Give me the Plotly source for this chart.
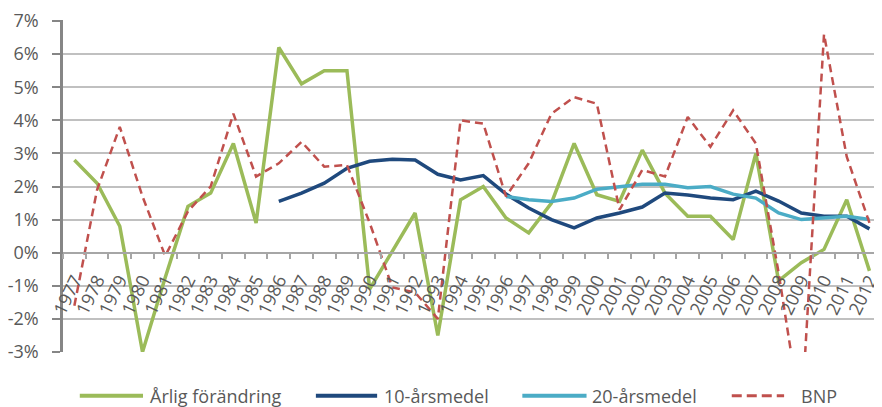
import plotly.graph_objects as go

years = ["1977", "1978", "1979", "1980", "1981", "1982", "1983", "1984", "1985",
         "1986", "1987", "1988", "1989", "1990", "1991", "1992", "1993", "1994",
         "1995", "1996", "1997", "1998", "1999", "2000", "2001", "2002", "2003",
         "2004", "2005", "2006", "2007", "2008", "2009", "2010", "2011", "2012"]

arlig = [2.8, 2.1, 0.8, -3.0, -0.75, 1.4, 1.8, 3.3, 0.9, 6.2, 5.1, 5.5, 5.5,
         -1.1, 0.05, 1.2, -2.5, 1.6, 2.0, 1.05, 0.6, 1.5, 3.3, 1.75, 1.55, 3.1,
         1.8, 1.1, 1.1, 0.4, 3.0, -0.85, -0.3, 0.1, 1.6, -0.55]

medel10 = [None] * 9 + [1.55, 1.8, 2.1, 2.55, 2.76, 2.82, 2.8, 2.37, 2.2, 2.33,
                        1.77, 1.35, 1.0, 0.75, 1.05, 1.2, 1.38, 1.8, 1.74, 1.65,
                        1.6, 1.86, 1.56, 1.2, 1.1, 1.1, 0.72]

medel20 = [None] * 19 + [1.7, 1.6, 1.55, 1.65, 1.92, 2.0, 2.07, 2.07, 1.96, 2.0,
                         1.77, 1.65, 1.2, 1.0, 1.05, 1.1, 1.0]

bnp = [-1.6, 1.9, 3.8, 1.7, -0.1, 1.25, 2.0, 4.2, 2.3, 2.7, 3.35, 2.6, 2.65,
       0.9, -1.05, -1.2, -2.0, 4.0, 3.9, 1.7, 2.7, 4.2, 4.7, 4.5, 1.3, 2.5,
       2.3, 4.1, 3.2, 4.3, 3.3, -0.6, -5.0, 6.6, 2.9, 0.9]

series_names = ["Årlig förändring", "10-årsmedel", "20-årsmedel", "BNP"]

y_tickvals = [-3, -2, -1, 0, 1, 2, 3, 4, 5, 6, 7]
y_ticktext = ["-3%", "-2%", "-1%", "0%", "1%", "2%", "3%", "4%", "5%", "6%", "7%"]

colors = ["#9BBB59", "#1F497D", "#4BACC6", "#C0504D"]
FONT = "Open Sans"
TXT = "#595959"

Y_MIN, Y_MAX = -3, 7.03

# page has an 8px body margin; figure coordinates are page coords minus OFF
OFF = 8
PAGE_W, PAGE_H = 882, 407
W, H = PAGE_W - OFF, PAGE_H - OFF
PX_PER_UNIT = 33.3
ML = 61 - OFF
MT = round(19 - (Y_MAX - 7) * PX_PER_UNIT) - OFF
MR = 0
MB = PAGE_H - 352

fig = go.Figure()
all_series = [arlig, medel10, medel20, bnp]
widths = [3.5, 3.5, 3.5, 2.5]
dashes = ["solid", "solid", "solid", "8px,5px"]
for name, vals, c, w, d in zip(series_names, all_series, colors, widths, dashes):
    fig.add_trace(go.Scatter(x=years, y=vals, mode="lines", name=name,
                             line=dict(color=c, width=w, dash=d),
                             connectgaps=False, showlegend=False))


def px_x(p):
    return (p - OFF - ML) / (W - ML - MR)


def px_y(p):
    return (H - MB - (p - OFF)) / (H - MT - MB)


# manual legend (page pixel positions)
leg_lines = [(78, 142), (317, 379), (526, 591), (738, 791)]
leg_text_x = [147, 384, 594, 806]
leg_y = 396
shapes = []
annotations = []
for (x0, x1), tx, c, d, name in zip(leg_lines, leg_text_x, colors, dashes, series_names):
    shapes.append(dict(type="line", xref="paper", yref="paper",
                       x0=px_x(x0), x1=px_x(x1), y0=px_y(leg_y), y1=px_y(leg_y),
                       line=dict(color=c, width=4 if d == "solid" else 3,
                                 dash="solid" if d == "solid" else "10px,5px")))
    annotations.append(dict(xref="paper", yref="paper", x=px_x(tx), y=px_y(leg_y),
                            text=name, showarrow=False, xanchor="left", yanchor="middle",
                            font=dict(family=FONT, size=18, color=TXT)))

zero_pos = (0 - Y_MIN) / (Y_MAX - Y_MIN)

fig.update_layout(
    width=W, height=H,
    margin=dict(l=ML, r=MR, t=MT, b=MB, pad=0),
    paper_bgcolor="white", plot_bgcolor="white",
    showlegend=False,
    shapes=shapes, annotations=annotations,
    xaxis=dict(type="category", range=[-0.5, 35.2], anchor="free", position=zero_pos,
               showline=True, linecolor="#A6A6A6", linewidth=2,
               ticks="outside", tickson="boundaries", ticklen=5, tickwidth=2,
               tickcolor="#A6A6A6", tickangle=-64, showgrid=False, zeroline=False,
               ticklabeloverflow="allow", ticklabelstandoff=9,
               tickfont=dict(family=FONT, size=18, color=TXT)),
    yaxis=dict(range=[Y_MIN, Y_MAX], tickvals=y_tickvals, ticktext=y_ticktext,
               showgrid=True, gridcolor="#C0C0C0", gridwidth=2,
               showline=True, linecolor="#868686", linewidth=2.5,
               ticks="outside", ticklen=8, tickwidth=2, tickcolor="#868686",
               zeroline=False, ticklabelstandoff=10, ticklabeloverflow="allow",
               tickfont=dict(family=FONT, size=18, color=TXT)),
)

fig.write_html("out.html")
